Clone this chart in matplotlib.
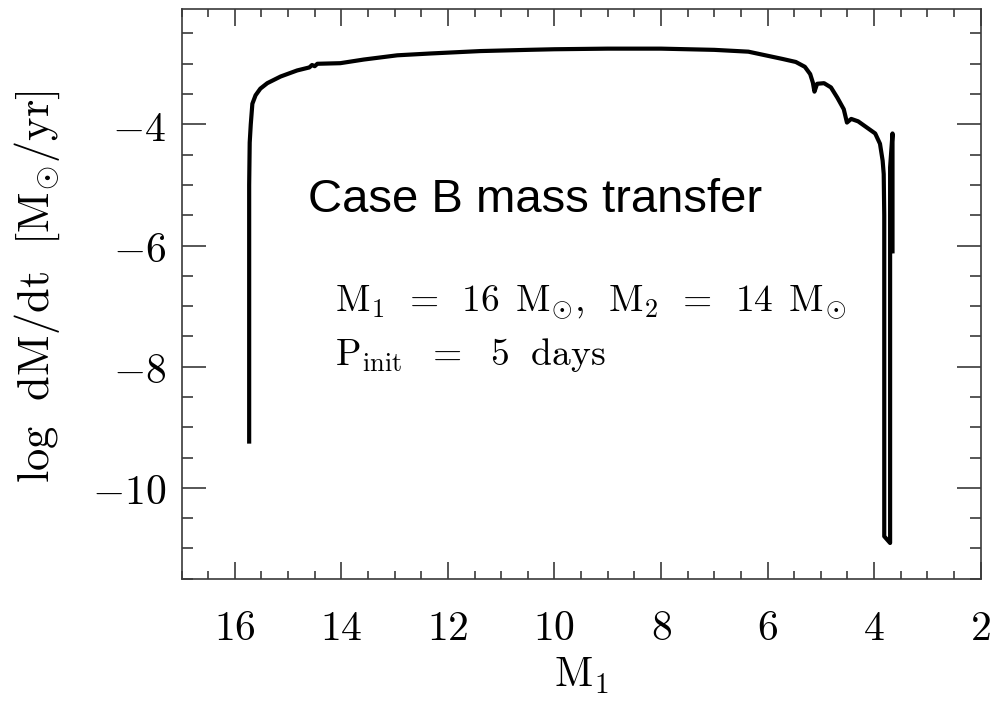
import matplotlib
matplotlib.use("Agg")
import matplotlib.pyplot as plt
from matplotlib.ticker import MultipleLocator, FuncFormatter

plt.rcParams["mathtext.fontset"] = "cm"

# Donor mass M1 [Msun] and log mass-transfer rate [Msun/yr] along the track
m1 = [15.73, 15.73, 15.72, 15.70, 15.67, 15.61, 15.52, 15.39, 15.14, 14.83,
      14.60, 14.55, 14.50, 14.45, 14.02, 13.58, 12.95, 12.33, 11.39, 10.5,
      10.0, 9.0, 8.0, 7.5, 7.0, 6.36, 6.04, 5.72, 5.47, 5.30,
      5.20, 5.15, 5.12, 5.07, 4.94, 4.81, 4.69, 4.57, 4.51, 4.43,
      4.30, 4.14, 3.98, 3.89, 3.84, 3.82, 3.81, 3.81, 3.70, 3.70,
      3.655, 3.655]
log_mdot = [-9.27, -5.0, -4.3, -4.0, -3.66, -3.52, -3.41, -3.32, -3.21, -3.11,
            -3.06, -3.02, -3.04, -3.00, -2.99, -2.93, -2.86, -2.83, -2.79, -2.77,
            -2.76, -2.75, -2.75, -2.76, -2.77, -2.80, -2.86, -2.92, -2.97, -3.05,
            -3.17, -3.31, -3.46, -3.33, -3.32, -3.39, -3.56, -3.75, -3.97, -3.91,
            -3.95, -4.05, -4.15, -4.32, -4.60, -4.82, -5.50, -10.80, -10.91, -4.71,
            -4.15, -6.13]

x_ticks = [16, 14, 12, 10, 8, 6, 4, 2]
y_ticks = [-4, -6, -8, -10]

fig = plt.figure(figsize=(9.94, 7.02), dpi=100)
ax = fig.add_axes([0.1826, 0.1756, 0.8040, 0.8112])

ax.plot(m1, log_mdot, color="black", lw=3.0, solid_joinstyle="round",
        solid_capstyle="butt")

ax.set_xlim(17, 2)
ax.set_ylim(-11.5, -2.1)

ax.xaxis.set_minor_locator(MultipleLocator(0.5))
ax.yaxis.set_minor_locator(MultipleLocator(0.5))
ax.set_xticks(x_ticks)
ax.set_yticks(y_ticks)

fmt = FuncFormatter(lambda v, p: r"$%d$" % round(v))
ax.xaxis.set_major_formatter(fmt)
ax.yaxis.set_major_formatter(fmt)

spine_col = "#3a3a3a"
for s in ax.spines.values():
    s.set_color(spine_col)
    s.set_linewidth(1.2)

ax.tick_params(axis="x", which="major", direction="in", length=12, width=1.2,
               color=spine_col, top=True, labelsize=30, pad=20)
ax.tick_params(axis="x", which="minor", direction="in", length=6, width=1.2,
               color=spine_col, top=True)
ax.tick_params(axis="y", which="major", direction="in", length=17, width=1.2,
               color=spine_col, right=True, labelsize=30, pad=11)
ax.tick_params(axis="y", which="minor", direction="in", length=8, width=1.2,
               color=spine_col, right=True)

ax.set_xlabel(r"$\mathrm{M_1}$", fontsize=30, labelpad=4)
ax.set_ylabel(r"$\mathrm{log\ \ dM/dt\ \ [M_{\odot}/yr]}$", fontsize=32)
ax.yaxis.set_label_coords(-0.150, 0.512)

ax.text(14.63, -5.45, "Case B mass transfer", family="Liberation Sans",
        fontsize=34, va="baseline", ha="left", color="black")
ax.text(14.12, -7.07,
        r"$\mathrm{M_1\ \,=\ \,16\ \,M_{\odot},\ \,M_2\ \,=\ \,14\ \,M_{\odot}}$",
        fontsize=27, va="baseline", ha="left")
ax.text(14.12, -7.97, r"$\mathrm{P_{init}\ \ =\ \ 5\ \ days}$",
        fontsize=27, va="baseline", ha="left")

fig.savefig("out.png", dpi=100)
